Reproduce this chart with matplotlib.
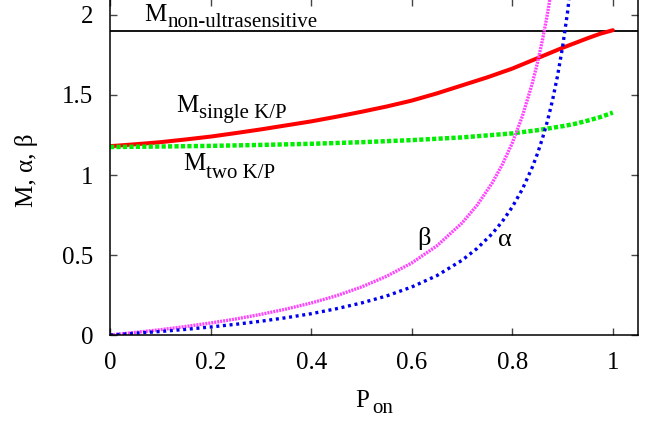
import matplotlib
matplotlib.use('Agg')
import matplotlib.pyplot as plt
from matplotlib.transforms import offset_copy

plt.rcParams['font.family'] = ['Liberation Serif', 'DejaVu Serif']

# values
m_non_ultra = 1.9

p_single = [0, 0.05, 0.1, 0.15, 0.2, 0.25, 0.3, 0.35, 0.4, 0.45, 0.5, 0.55, 0.6,
            0.65, 0.7, 0.75, 0.8, 0.85, 0.9, 0.95, 0.975, 1.0]
m_single = [1.18, 1.192, 1.205, 1.222, 1.24, 1.262, 1.285, 1.31, 1.335, 1.364, 1.395, 1.428, 1.465,
            1.51, 1.56, 1.61, 1.665, 1.73, 1.795, 1.855, 1.883, 1.905]

p_two = [0, 0.1, 0.2, 0.3, 0.4, 0.5, 0.6, 0.7, 0.8, 0.85, 0.9, 0.925, 0.95, 0.975, 1.0]
m_two = [1.175, 1.178, 1.182, 1.188, 1.195, 1.205, 1.218, 1.235, 1.26, 1.28, 1.305, 1.32, 1.34, 1.362, 1.39]

p_beta = [0, 0.05, 0.1, 0.15, 0.2, 0.25, 0.3, 0.35, 0.4, 0.45, 0.5, 0.55, 0.6,
          0.65, 0.7, 0.73, 0.76, 0.78, 0.8, 0.82, 0.84, 0.85, 0.86, 0.87, 0.88]
beta = [0, 0.016, 0.033, 0.053, 0.075, 0.1, 0.129, 0.162, 0.2, 0.245, 0.3, 0.367, 0.45,
        0.557, 0.7, 0.811, 0.95, 1.064, 1.2, 1.367, 1.575, 1.7, 1.843, 2.008, 2.2]

p_alpha = [0, 0.05, 0.1, 0.15, 0.2, 0.25, 0.3, 0.35, 0.4, 0.45, 0.5, 0.55, 0.6,
           0.65, 0.7, 0.73, 0.76, 0.78, 0.8, 0.82, 0.84, 0.85, 0.86, 0.87, 0.88,
           0.89, 0.9, 0.91, 0.92]
alpha = [0, 0.011, 0.022, 0.035, 0.05, 0.067, 0.086, 0.108, 0.133, 0.164, 0.2, 0.244, 0.3,
         0.371, 0.467, 0.541, 0.633, 0.709, 0.8, 0.911, 1.05, 1.133, 1.229, 1.338, 1.467,
         1.62, 1.8, 2.02, 2.3]

xticks = [0, 0.2, 0.4, 0.6, 0.8, 1]
yticks = [0, 0.5, 1, 1.5, 2]

fig = plt.figure(figsize=(6.62, 4.23), dpi=100)
ax = fig.add_axes([110/662, 88/423, 528/662, 336/423])

ax.axhline(m_non_ultra, color='black', lw=1.3)
ax.plot(p_single, m_single, color='red', lw=2.9, solid_capstyle='round', solid_joinstyle='round')
ax.plot(p_two, m_two, color='#00ee00', lw=3.2, ls=(0, (0.95, 0.5)))
ax.plot(p_beta, beta, color='#ff44ff', lw=2.4, ls=(0, (0.6, 0.3)))
ax.plot(p_alpha, alpha, color='#0000ee', lw=2.4, ls=(0, (0.9, 1.1)))


def label(x, y, main, sub, dx=16.5, dy=-4.5):
    ax.text(x, y, main, fontsize=18, ha='left', va='baseline')
    tr = offset_copy(ax.transData, fig=fig, x=dx, y=dy, units='points')
    ax.text(x, y, sub, fontsize=15, ha='left', va='baseline', transform=tr)


label(0.068, 1.964, 'M', 'non-ultrasensitive')
label(0.131, 1.396, 'M', 'single K/P')
label(0.146, 1.031, 'M', 'two K/P', dy=-6)
ax.text(0.612, 0.5625, 'β', fontsize=19, va='baseline')
ax.text(0.771, 0.556, 'α', fontsize=19, va='baseline')

ax.set_xlim(0, 1.05)
ax.set_ylim(0, 2.1)
ax.set_xticks(xticks)
ax.set_xticklabels(['0', '0.2', '0.4', '0.6', '0.8', '1'])
ax.set_yticks(yticks)
ax.set_yticklabels(['0', '0.5', '1', '1.5', '2'])
ax.tick_params(direction='in', length=5, width=1, top=True, right=True,
               labelsize=18, color='#444444')
ax.tick_params(axis='x', pad=12.5)
ax.tick_params(axis='y', pad=12)
for s in ax.spines.values():
    s.set_linewidth(1.1)

# x label P_on, y label
fig.text(355/662, 1 - 406.7/423, 'P', fontsize=18, ha='left', va='baseline')
fig.text(372/662, 1 - 413/423, 'on', fontsize=15, ha='left', va='baseline')
ax.set_ylabel('M, α, β', fontsize=18)
ax.yaxis.set_label_coords(-0.137, 0.49)

fig.savefig('out.png', dpi=100)
